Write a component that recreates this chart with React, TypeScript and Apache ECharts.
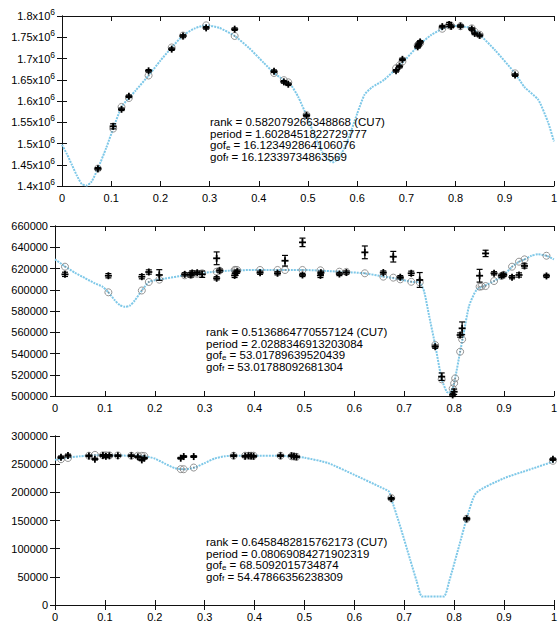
import React, { useEffect, useRef } from "react";
import * as echarts from "echarts";

type P2 = [number, number];
type P3 = [number, number, number];

// ---------- Panel 1 ----------
const p1Model: P2[] = [
  [0, 1497000], [0.01, 1475000], [0.02, 1450000], [0.03, 1425000], [0.04, 1405000], [0.05, 1401000],
  [0.06, 1410000], [0.073, 1441000], [0.09, 1490000], [0.104, 1535000], [0.121, 1586000],
  [0.136, 1607000], [0.15, 1625000], [0.176, 1660000], [0.2, 1695000], [0.223, 1726000],
  [0.246, 1754000], [0.27, 1771000], [0.293, 1778000], [0.32, 1772000], [0.351, 1753000],
  [0.38, 1725000], [0.41, 1690000], [0.431, 1666000], [0.451, 1649000], [0.465, 1638000],
  [0.48, 1610000], [0.497, 1566000], [0.515, 1515000], [0.53, 1478000], [0.545, 1459000],
  [0.551, 1456000], [0.565, 1470000], [0.58, 1505000], [0.6, 1570000], [0.615, 1615000],
  [0.63, 1632000], [0.655, 1650000], [0.68, 1677000], [0.7, 1700000], [0.725, 1731000],
  [0.75, 1755000], [0.773, 1770000], [0.79, 1777000], [0.81, 1776000], [0.833, 1771000],
  [0.85, 1755000], [0.88, 1720000], [0.921, 1665000], [0.94, 1633000], [0.968, 1603000],
  [0.988, 1550000], [1.0, 1505000],
];
const p1Obs: P3[] = [
  [0.073, 1440600, 3000], [0.104, 1540400, 6000], [0.121, 1580500, 3000], [0.136, 1611000, 3000],
  [0.176, 1671000, 3000], [0.223, 1722000, 3000], [0.246, 1753000, 3000], [0.293, 1772000, 3000],
  [0.351, 1769000, 3000], [0.431, 1670000, 3000], [0.451, 1645000, 3000], [0.46, 1639500, 3000],
  [0.497, 1566000, 3000], [0.679, 1671000, 3000], [0.686, 1681000, 3000], [0.692, 1698000, 3000],
  [0.723, 1727500, 3000], [0.725, 1733000, 3000], [0.728, 1739000, 3000], [0.773, 1775000, 3000],
  [0.787, 1780000, 5000], [0.791, 1775700, 3000], [0.81, 1776400, 3000], [0.833, 1769300, 3000],
  [0.839, 1759000, 3000], [0.849, 1754400, 3000], [0.921, 1661000, 3000],
];
const p1Fit: P2[] = [
  [0.073, 1441000], [0.104, 1535000], [0.121, 1586000], [0.136, 1607000], [0.176, 1660000],
  [0.223, 1726000], [0.246, 1754000], [0.293, 1778000], [0.351, 1753000], [0.431, 1666000],
  [0.451, 1649000], [0.46, 1644000], [0.497, 1567000], [0.679, 1677000], [0.686, 1684000],
  [0.692, 1693000], [0.723, 1731000], [0.725, 1733000], [0.728, 1736000], [0.773, 1770000],
  [0.787, 1778000], [0.791, 1777000], [0.81, 1776000], [0.833, 1771000], [0.839, 1763000],
  [0.849, 1756000], [0.921, 1665000],
];

// ---------- Panel 2 ----------
const p2Model: P2[] = [
  [0, 628600], [0.02, 622000], [0.04, 616000], [0.06, 611000], [0.08, 606000], [0.095, 603000],
  [0.107, 597600], [0.12, 590000], [0.13, 585500], [0.14, 584000], [0.15, 585000], [0.16, 590000],
  [0.174, 599300], [0.188, 607300], [0.2, 609000], [0.22, 610500], [0.26, 613600], [0.3, 616000],
  [0.35, 618000], [0.4, 618600], [0.5, 618600], [0.57, 617000], [0.62, 615500], [0.66, 612300],
  [0.69, 610000], [0.714, 607500], [0.731, 607000], [0.74, 598000], [0.75, 575000], [0.762, 548000],
  [0.775, 516000], [0.785, 504000], [0.79, 503000], [0.797, 507000], [0.802, 516600], [0.812, 541700],
  [0.818, 556000], [0.83, 585000], [0.845, 600000], [0.86, 603500], [0.88, 608200], [0.9, 614000],
  [0.916, 621700], [0.93, 626400], [0.941, 628600], [0.955, 632000], [0.968, 633400], [0.985, 632000],
  [1.0, 628600],
];
const p2Obs: P3[] = [
  [0.02, 614500, 2000], [0.107, 613200, 2000], [0.174, 612300, 2000], [0.188, 616700, 2000],
  [0.209, 613900, 5000], [0.26, 614500, 1500], [0.272, 614000, 2000], [0.275, 615800, 2000],
  [0.285, 616000, 1500], [0.295, 614600, 3000], [0.324, 629600, 6000], [0.324, 610800, 1500],
  [0.33, 618000, 1500], [0.36, 613500, 2000], [0.362, 615500, 2000], [0.365, 617000, 1500],
  [0.411, 616000, 1500], [0.446, 615500, 1500], [0.461, 627300, 5000], [0.496, 644600, 4000],
  [0.496, 613900, 1500], [0.532, 613500, 2000], [0.533, 616000, 1500], [0.57, 614800, 1500],
  [0.584, 616200, 1500], [0.621, 635200, 6000], [0.658, 616200, 1500], [0.678, 631100, 5000],
  [0.692, 611800, 1500], [0.714, 615500, 2000], [0.731, 609200, 7000], [0.762, 546400, 1500],
  [0.775, 518200, 3500], [0.797, 501000, 1500], [0.8, 504000, 2500], [0.812, 557400, 2000],
  [0.816, 563700, 6000], [0.851, 613200, 6000], [0.863, 634200, 3000], [0.88, 615500, 1500],
  [0.895, 613200, 1500], [0.899, 614000, 1500], [0.916, 611800, 1500], [0.93, 613900, 2000],
  [0.941, 622400, 2000], [0.985, 613000, 1500],
];
const p2Fit: P2[] = [
  [0.02, 621700], [0.107, 597600], [0.174, 599300], [0.188, 607300], [0.209, 609500],
  [0.26, 613600], [0.272, 614200], [0.275, 614500], [0.285, 615000], [0.295, 615500],
  [0.324, 617000], [0.33, 618000], [0.36, 618600], [0.362, 618600], [0.365, 618600],
  [0.411, 618600], [0.446, 618600], [0.461, 618600], [0.496, 618600], [0.532, 618300],
  [0.57, 617000], [0.584, 616800], [0.621, 615500], [0.658, 612300], [0.678, 611400],
  [0.692, 609800], [0.714, 607500], [0.731, 607000], [0.762, 548000], [0.775, 515700],
  [0.797, 507000], [0.8, 512000], [0.802, 516600], [0.812, 541700], [0.816, 553300],
  [0.851, 602900], [0.855, 603200], [0.863, 603500], [0.88, 608200], [0.895, 613000],
  [0.899, 614000], [0.916, 621700], [0.93, 626400], [0.941, 628600], [0.985, 632000],
];

// ---------- Panel 3 ----------
const p3Model: P2[] = [
  [0, 257600], [0.02, 261000], [0.05, 264000], [0.08, 266000], [0.1, 265700], [0.15, 265000],
  [0.18, 264000], [0.2, 260000], [0.22, 251000], [0.24, 243000], [0.26, 241000], [0.28, 244000],
  [0.3, 252000], [0.32, 260000], [0.34, 264000], [0.36, 265000], [0.4, 265000], [0.45, 265000],
  [0.48, 263000], [0.5, 261500], [0.547, 252000], [0.6, 231000], [0.653, 209000], [0.669, 201700],
  [0.674, 189000], [0.69, 145000], [0.712, 80000], [0.725, 42000], [0.736, 15000], [0.779, 15000],
  [0.79, 42000], [0.81, 105000], [0.825, 153000], [0.844, 198800], [0.9, 225000], [0.95, 240000],
  [1.0, 255000],
];
const p3Obs: P3[] = [
  [0.012, 262400, 2000], [0.026, 265300, 2500], [0.068, 264700, 1500], [0.08, 258900, 1500],
  [0.096, 265300, 2000], [0.102, 264000, 2000], [0.109, 265000, 2000], [0.126, 265000, 1500],
  [0.153, 265000, 1500], [0.166, 263000, 1500], [0.174, 257600, 1500], [0.179, 260600, 1500],
  [0.252, 260600, 1500], [0.258, 263500, 1500], [0.278, 263500, 1500], [0.358, 265000, 1500],
  [0.381, 264000, 1500], [0.388, 265000, 1500], [0.393, 264500, 1500], [0.398, 264000, 1500],
  [0.452, 265000, 1500], [0.474, 265000, 1500], [0.479, 264000, 1500], [0.484, 263000, 1500],
  [0.674, 188800, 2000], [0.825, 153000, 2000], [0.998, 258800, 2000],
];
const p3Fit: P2[] = [
  [0.012, 258800], [0.026, 261000], [0.068, 265000], [0.08, 266500], [0.096, 265700],
  [0.102, 265700], [0.109, 265600], [0.126, 265500], [0.153, 265000], [0.166, 265000],
  [0.174, 264800], [0.179, 264500], [0.252, 241200], [0.258, 241000], [0.278, 244000],
  [0.358, 265000], [0.381, 265000], [0.388, 265000], [0.393, 265000], [0.398, 265000],
  [0.452, 265000], [0.474, 264000], [0.479, 263500], [0.484, 263000], [0.674, 190000],
  [0.825, 153000], [0.998, 256000],
];

const panelStats = [
  { rank: "0.582079266348868", period: "1.6028451822729777", gofE: "16.123492864106076", gofF: "16.12339734863569" },
  { rank: "0.5136864770557124", period: "2.0288346913203084", gofE: "53.01789639520439", gofF: "53.01788092681304" },
  { rank: "0.6458482815762173", period: "0.08069084271902319", gofE: "68.5092015734874", gofF: "54.47866356238309" },
];

const yRanges = [
  { min: 1400000, max: 1800000, interval: 50000 },
  { min: 500000, max: 660000, interval: 20000 },
  { min: 0, max: 300000, interval: 50000 },
];

const FONT = '"Liberation Sans", Arial, Helvetica, sans-serif';
const CURVE = "#7ec8e8";

export default function App() {
  const ref = useRef<HTMLDivElement>(null);
  useEffect(() => {
    const chart = echarts.init(ref.current!, null, { renderer: "svg" });
    const grids = [
      { left: 62, top: 16, width: 496, height: 170 },
      { left: 55, top: 226, width: 503, height: 170 },
      { left: 55, top: 436, width: 503, height: 170 },
    ];
    const axisLine = { show: true, lineStyle: { color: "#111", width: 1 } };
    const tick = { show: true, inside: true, length: 5, lineStyle: { color: "#111", width: 1 } };
    const xAxis: any[] = [];
    const yAxis: any[] = [];
    grids.forEach((_, i) => {
      const base = { type: "value", min: 0, max: 1, interval: 0.1, gridIndex: i, splitLine: { show: false }, axisLine, axisTick: tick };
      xAxis.push({
        ...base, position: "bottom",
        axisLabel: { margin: 6, color: "#000", fontSize: 11, fontFamily: FONT, formatter: (v: number) => String(parseFloat(v.toFixed(1))) },
      });
      xAxis.push({ ...base, position: "top", axisLabel: { show: false } });
      const yr = yRanges[i];
      const ybase = { type: "value", min: yr.min, max: yr.max, interval: yr.interval, gridIndex: i, splitLine: { show: false }, axisLine, axisTick: tick };
      yAxis.push({
        ...ybase, position: "left",
        axisLabel: i === 0
          ? {
              margin: 7, color: "#000", fontSize: 11, fontFamily: FONT,
              formatter: (v: number) => `{b|${parseFloat((v / 1e6).toFixed(2))}x10}{s|6}`,
              rich: {
                b: { fontSize: 11, fontFamily: FONT, color: "#000" },
                s: { fontSize: 8.5, fontFamily: FONT, color: "#000", padding: [0, 0, 8, 0] },
              },
            }
          : { margin: 7, color: "#000", fontSize: 11, fontFamily: FONT, formatter: (v: number) => String(v) },
      });
      yAxis.push({ ...ybase, position: "right", axisLabel: { show: false } });
    });

    const renderErr = (params: any, api: any) => {
      const x = api.value(0), y = api.value(1), e = api.value(2);
      const c = api.coord([x, y]);
      const hi = api.coord([x, y + e]);
      const lo = api.coord([x, y - e]);
      const st = { stroke: "#000", lineWidth: 1.2 };
      const bold = { stroke: "#000", lineWidth: 1.8 };
      const cap = 3, pl = 3.5;
      return {
        type: "group",
        children: [
          { type: "line", shape: { x1: c[0], y1: hi[1], x2: c[0], y2: lo[1] }, style: st },
          { type: "line", shape: { x1: c[0] - cap, y1: hi[1], x2: c[0] + cap, y2: hi[1] }, style: st },
          { type: "line", shape: { x1: c[0] - cap, y1: lo[1], x2: c[0] + cap, y2: lo[1] }, style: st },
          { type: "line", shape: { x1: c[0] - pl, y1: c[1], x2: c[0] + pl, y2: c[1] }, style: bold },
          { type: "line", shape: { x1: c[0], y1: c[1] - pl, x2: c[0], y2: c[1] + pl }, style: bold },
        ],
      };
    };

    const models = [p1Model, p2Model, p3Model];
    const obs = [p1Obs, p2Obs, p3Obs];
    const fits = [p1Fit, p2Fit, p3Fit];
    const series: any[] = [];
    for (let i = 0; i < 3; i++) {
      series.push({
        type: "line", xAxisIndex: 2 * i, yAxisIndex: 2 * i, data: models[i], symbol: "none",
        smooth: 0.2, z: 1,
        lineStyle: { color: CURVE, width: 2, type: [2, 1] },
      });
      series.push({
        type: "scatter", xAxisIndex: 2 * i, yAxisIndex: 2 * i, data: fits[i], symbol: "circle", symbolSize: 7, z: 2,
        itemStyle: { color: "rgba(0,0,0,0)", borderColor: "#7a7a7a", borderWidth: 1 },
      });
      series.push({
        type: "scatter", xAxisIndex: 2 * i, yAxisIndex: 2 * i, data: fits[i], symbol: "circle", symbolSize: 1.6, z: 2,
        itemStyle: { color: "#7a7a7a" },
      });
      series.push({
        type: "custom", xAxisIndex: 2 * i, yAxisIndex: 2 * i, data: obs[i], renderItem: renderErr, z: 3,
        encode: { x: 0, y: 1 },
      });
    }

    const LH = 11.6;
    const textPos = [
      { x: 210, y: 122 },
      { x: 206, y: 332 },
      { x: 206, y: 542 },
    ];
    const graphic: any[] = panelStats.map((s, i) => ({
      type: "text", x: textPos[i].x, y: textPos[i].y - LH / 2, z: 10,
      style: {
        text: [
          `{n|rank = ${s.rank} (CU7)}`,
          `{n|period = ${s.period}}`,
          `{n|gof}{sub|e}{n| = ${s.gofE}}`,
          `{n|gof}{sub|f}{n| = ${s.gofF}}`,
        ].join("\n"),
        fill: "#000", fontSize: 11.5, fontFamily: FONT, verticalAlign: "top", align: "left", lineHeight: LH,
        rich: {
          n: { fontSize: 11.5, fontFamily: FONT, fill: "#000", lineHeight: LH },
          sub: { fontSize: 8, fontFamily: FONT, fill: "#000", lineHeight: LH, padding: [4, 0, 0, 0] },
        },
      },
    }));

    chart.setOption({
      animation: false,
      backgroundColor: "#fff",
      grid: grids,
      xAxis,
      yAxis,
      series,
      graphic,
    });
    return () => chart.dispose();
  }, []);
  return <div ref={ref} style={{ position: "absolute", left: 0, top: 0, width: 560, height: 622 }} />;
}
